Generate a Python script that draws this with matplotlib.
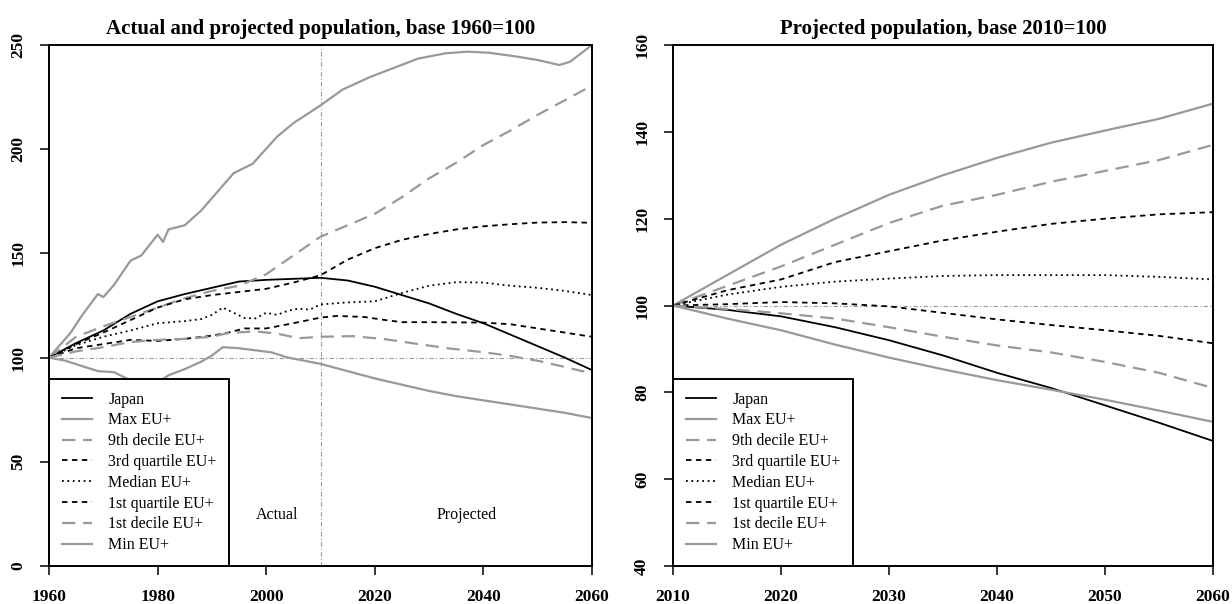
import numpy as np
import matplotlib.pyplot as plt

plt.rcParams['font.family'] = ['Liberation Serif', 'DejaVu Serif']

GREY = '#999999'

# ---- left panel: actual and projected, base 1960=100 ----
japan_l_yr = [1960, 1965, 1970, 1975, 1980, 1985, 1990, 1995, 2000, 2005, 2010,
              2015, 2020, 2025, 2030, 2035, 2040, 2045, 2050, 2055, 2060]
japan_l = [100, 107, 113, 121, 127, 130.5, 133.5, 136.5, 137.3, 137.8, 138.3,
           137, 134, 130, 126, 121, 116.5, 111, 105.5, 100, 94]

max_l_yr = [1960, 1962, 1964, 1966, 1969, 1970, 1972, 1975, 1977, 1980, 1981, 1982,
            1985, 1988, 1991, 1994, 1997.5, 2002, 2005, 2010, 2014, 2019, 2024,
            2028, 2033, 2037, 2041, 2046, 2050, 2054, 2056, 2060]
max_l = [100, 106, 112, 120, 130.5, 129, 135, 146.5, 149, 159, 155.5, 161.5,
         163.5, 170.5, 179.5, 188.5, 193, 206, 212.5, 221, 228.5, 234.5, 239.5,
         243.5, 246, 246.8, 246.3, 244.5, 242.8, 240.4, 242, 250]

d9_l_yr = [1960, 1965, 1970, 1975, 1980, 1985, 1990, 1995, 2000, 2005, 2010,
           2015, 2020, 2025, 2030, 2035, 2040, 2045, 2050, 2055, 2060]
d9_l = [100, 110, 115, 119.5, 124, 128.5, 132, 134.5, 140, 149, 158,
        163.5, 169, 177, 186, 193.5, 202, 209, 216.5, 223.5, 230.5]

q3_l_yr = [1960, 1965, 1970, 1975, 1980, 1985, 1990, 1995, 2000, 2005, 2010,
           2015, 2020, 2025, 2030, 2035, 2040, 2045, 2050, 2055, 2060]
q3_l = [100, 106.5, 112, 118, 124, 128, 130, 131.5, 133, 136, 139.5,
        147, 152.5, 156.5, 159.3, 161.5, 163, 164, 164.8, 165, 164.7]

med_l_yr = [1960, 1965, 1970, 1975, 1980, 1985, 1988, 1990, 1992, 1994, 1996, 1998,
            2000, 2002, 2004, 2006, 2008, 2010, 2015, 2020, 2025, 2030, 2035,
            2040, 2045, 2050, 2055, 2060]
med_l = [100, 106, 110, 113, 116.5, 117.5, 118.5, 120.5, 124, 121.5, 119, 118.8,
         121.5, 120.5, 122.5, 123.5, 123, 125.5, 126.5, 127, 131, 134.5, 136.2,
         136, 134.5, 133.5, 132, 130]

q1_l_yr = [1960, 1965, 1970, 1975, 1980, 1985, 1990, 1993, 1996, 2000, 2005, 2010,
           2013, 2018, 2022, 2025, 2030, 2040, 2045, 2050, 2055, 2060]
q1_l = [100, 104.5, 106.5, 108.5, 108, 109, 110.5, 112, 114, 114, 116.5, 119.2,
        120, 119.5, 118, 117, 117, 116.8, 116, 114, 112, 110]

d1_l_yr = [1960, 1965, 1970, 1975, 1980, 1985, 1990, 1993, 1998, 2002, 2006, 2010,
           2016, 2022, 2028, 2034, 2040, 2045, 2050, 2055, 2060]
d1_l = [100, 103, 105, 107.5, 108.5, 109, 110, 111.8, 112.6, 111.5, 109.3, 110,
        110.3, 108.8, 106.5, 104.3, 102.6, 100.8, 98.5, 95.5, 92.4]

min_l_yr = [1960, 1963, 1966, 1969, 1972, 1975, 1977, 1980, 1982, 1985, 1988, 1990,
            1992, 1995, 1998, 2001, 2004, 2010, 2015, 2020, 2025, 2030, 2035,
            2040, 2045, 2050, 2055, 2060]
min_l = [100, 98.5, 96, 93.5, 93, 89, 87.5, 88, 91.5, 94.5, 98, 101,
         105, 104.5, 103.5, 102.5, 100, 97, 93.5, 90, 87, 84, 81.5,
         79.5, 77.5, 75.5, 73.5, 71]

# ---- right panel: projected, base 2010=100 ----
years_r = [2010, 2015, 2020, 2025, 2030, 2035, 2040, 2045, 2050, 2055, 2060]
japan_r = [100, 99, 97.5, 95, 92, 88.5, 84.5, 81, 77, 73, 68.8]
max_r = [100, 107, 114, 120, 125.5, 130, 134, 137.5, 140.3, 143, 146.5]
d9_r = [100, 104.5, 109, 114, 119, 123, 125.5, 128.5, 131, 133.5, 137]
q3_r = [100, 103.5, 106, 110, 112.5, 115, 117, 118.8, 120, 121, 121.5]
med_r = [100, 102.5, 104.3, 105.5, 106.2, 106.8, 107, 107, 107, 106.6, 106]
q1_r = [100, 100.3, 100.8, 100.5, 99.8, 98.3, 96.8, 95.5, 94.3, 93, 91.3]
d1_r = [100, 99.2, 98.2, 97, 95, 92.8, 90.8, 89.2, 87, 84.5, 81]
min_r = [100, 97, 94.3, 91, 88, 85.3, 82.8, 80.6, 78.3, 75.8, 73.2]

labels = ['Japan', 'Max EU+', '9th decile EU+', '3rd quartile EU+', 'Median EU+',
          '1st quartile EU+', '1st decile EU+', 'Min EU+']

# colour, dash pattern, width for each series (same order as labels)
styles = [
    ('black', '-', 1.3),
    (GREY, '-', 1.6),
    (GREY, (0, (6, 3.5)), 1.6),
    ('black', (0, (3, 2.5)), 1.3),
    ('black', (0, (1, 2)), 1.3),
    ('black', (0, (3, 2.5)), 1.3),
    (GREY, (0, (6, 3.5)), 1.6),
    (GREY, '-', 1.6),
]

fig = plt.figure(figsize=(12.32, 6.04), dpi=100)
ax1 = fig.add_axes([0.0398, 0.0629, 0.4407, 0.8626])
ax2 = fig.add_axes([0.5463, 0.0629, 0.4383, 0.8626])

left_series = [(japan_l_yr, japan_l), (max_l_yr, max_l), (d9_l_yr, d9_l),
               (q3_l_yr, q3_l), (med_l_yr, med_l), (q1_l_yr, q1_l),
               (d1_l_yr, d1_l), (min_l_yr, min_l)]
right_series = [japan_r, max_r, d9_r, q3_r, med_r, q1_r, d1_r, min_r]

for (xs, ys), lab, (c, ls, lw) in zip(left_series, labels, styles):
    ax1.plot(xs, ys, color=c, linestyle=ls, linewidth=lw, label=lab)
for ys, lab, (c, ls, lw) in zip(right_series, labels, styles):
    ax2.plot(years_r, ys, color=c, linestyle=ls, linewidth=lw, label=lab)

dotdash = (0, (4, 2, 1, 2))
ax1.axhline(100, color=GREY, linestyle=dotdash, linewidth=0.8, zorder=0)
ax1.axvline(2010, color=GREY, linestyle=dotdash, linewidth=0.8, zorder=0)
ax2.axhline(100, color=GREY, linestyle=dotdash, linewidth=0.8, zorder=0)

ax1.text(2002, 24.5, 'Actual', ha='center', va='center', fontsize=11.5)
ax1.text(2037, 24.5, 'Projected', ha='center', va='center', fontsize=11.5)

ax1.set_xlim(1960, 2060)
ax1.set_ylim(0, 250)
ax1.set_xticks(range(1960, 2061, 20))
ax1.set_yticks(range(0, 251, 50))
ax1.set_title('Actual and projected population, base 1960=100',
              fontsize=15, fontweight='bold', pad=8)

ax2.set_xlim(2010, 2060)
ax2.set_ylim(40, 160)
ax2.set_xticks(range(2010, 2061, 10))
ax2.set_yticks(range(40, 161, 20))
ax2.set_title('Projected population, base 2010=100',
              fontsize=15, fontweight='bold', pad=8)

for ax in (ax1, ax2):
    for sp in ax.spines.values():
        sp.set_linewidth(1.4)
    ax.tick_params(axis='both', direction='out', length=6.5, width=1.1,
                   labelsize=12.5)
    ax.tick_params(axis='x', pad=10)
    ax.tick_params(axis='y', pad=10)
    for t in ax.get_xticklabels() + ax.get_yticklabels():
        t.set_fontweight('bold')
    for t in ax.get_yticklabels():
        t.set_rotation(90)
        t.set_va('center')
    leg = ax.legend(loc='lower left', borderaxespad=0, fontsize=11.5,
                    fancybox=False, framealpha=1, edgecolor='black',
                    handlelength=1.9, handletextpad=1.0, labelspacing=0.3,
                    borderpad=0.8)
    leg.get_frame().set_linewidth(1.4)

fig.savefig('out.png', dpi=100)
